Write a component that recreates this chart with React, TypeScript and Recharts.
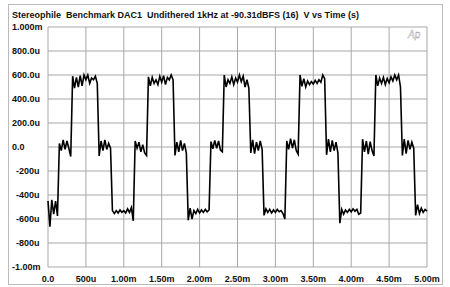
import { LineChart, Line, XAxis, YAxis, CartesianGrid } from 'recharts';

// analyzer sample spacing, ms
const sampleStepMs = 0.025;

// output voltage in microvolts, one value per 25us
const voltsUv = [
  -450, -665, -440, -560, -450, -575, 30, -30, 60, -20,
  50, -10, -80, 590, 490, 580, 500, 595, 510, 600,
  560, 600, 530, 575, 560, 590, 530, -75, 50, -30,
  60, -20, 30, -10, -530, -555, -530, -550, -525, -545,
  -530, -550, -515, -545, -505, -615, 50, -10, 40, -40,
  20, -50, -70, 585, 510, 580, 530, 560, 520, 590,
  540, 595, 520, 580, 560, 600, 560, -70, 40, -40,
  55, -30, 30, -50, -610, -510, -600, -530, -555, -520,
  -550, -525, -545, -520, -540, -525, 45, -15, 55, -10,
  50, -25, -40, 600, 500, 560, 530, 585, 520, 575,
  540, 600, 545, 590, 500, 560, 490, -50, 60, -55,
  40, -30, 50, -20, -570, -515, -545, -520, -550, -525,
  -545, -520, -540, -530, -555, -600, 50, -20, 70, -10,
  60, -30, -60, 600, 505, 570, 500, 550, 520, 545,
  525, 555, 530, 560, 540, 600, 570, -65, 65, -40,
  55, -30, 40, -50, -635, -520, -560, -525, -545, -520,
  -540, -515, -535, -520, -560, -550, 65, -40, 50, -60,
  45, -30, -75, 600, 510, 575, 530, 580, 520, 570,
  535, 585, 550, 600, 560, 600, 500, -70, 65, -55,
  55, -20, 40, -10, -570, -480, -555, -510, -545, -520,
  -535,
];

const xTicks = [0, 0.5, 1, 1.5, 2, 2.5, 3, 3.5, 4, 4.5, 5];
const xLabels = ['0.0', '500u', '1.00m', '1.50m', '2.00m', '2.50m', '3.00m', '3.50m', '4.00m', '4.50m', '5.00m'];
const yTicks = [1000, 800, 600, 400, 200, 0, -200, -400, -600, -800, -1000];
const yLabels = ['1.000m', '800.0u', '600.0u', '400.0u', '200.0u', '0.0', '-200u', '-400u', '-600u', '-800u', '-1.00m'];

const title = 'Stereophile  Benchmark DAC1  Undithered 1kHz at -90.31dBFS (16)  V vs Time (s)';

const data = voltsUv.map((v, i) => ({ t: i * sampleStepMs, v }));

const font = '"Liberation Sans", Arial, Helvetica, sans-serif';

const XTick = (props: any) => {
  const { x, payload } = props;
  const label = xLabels[xTicks.indexOf(payload.value)];
  return (
    <text x={x} y={282} textAnchor="middle" fontFamily={font} fontSize={9} fontWeight="bold" fill="#111">
      {label}
    </text>
  );
};

const YTick = (props: any) => {
  const { y, payload } = props;
  const label = yLabels[yTicks.indexOf(payload.value)];
  const shift = label.startsWith('-') && label.endsWith('u') ? 4 : 0;
  return (
    <text x={12 + shift} y={y} dy="0.35em" textAnchor="start" fontFamily={font} fontSize={9} fontWeight="bold" fill="#111">
      {label}
    </text>
  );
};

export default function App() {
  return (
    <div style={{ position: 'absolute', left: 0, top: 0, width: 450, height: 287, background: '#fff' }}>
      <div
        style={{
          position: 'absolute',
          left: 8,
          top: 4,
          width: 433,
          height: 279,
          border: '1px solid #bbb',
        }}
      />
      <LineChart
        width={450}
        height={287}
        data={data}
        margin={{ top: 27, right: 23, bottom: 0, left: 0 }}
        style={{ position: 'absolute', left: 0, top: 0 }}
      >
        <CartesianGrid stroke="#a8a8a8" strokeWidth={1} />
        <XAxis
          dataKey="t"
          type="number"
          domain={[0, 5]}
          ticks={xTicks}
          height={20}
          axisLine={false}
          tickLine={false}
          tick={<XTick />}
          interval={0}
        />
        <YAxis
          type="number"
          domain={[-1000, 1000]}
          ticks={yTicks}
          width={48}
          axisLine={false}
          tickLine={false}
          tick={<YTick />}
          interval={0}
        />
        <Line
          type="linear"
          dataKey="v"
          stroke="#000"
          strokeWidth={1.6}
          dot={false}
          isAnimationActive={false}
        />
      </LineChart>
      <svg width={450} height={287} style={{ position: 'absolute', left: 0, top: 0, pointerEvents: 'none' }}>
        <text x={12} y={17.5} fontFamily={font} fontSize={9} fontWeight="bold" fill="#111" style={{ whiteSpace: 'pre' }}>
          {title}
        </text>
        <text x={408} y={38} fontFamily={font} fontSize={10} fontStyle="italic" fill="#fff" stroke="#999" strokeWidth={0.4}>
          Ap
        </text>
      </svg>
    </div>
  );
}
